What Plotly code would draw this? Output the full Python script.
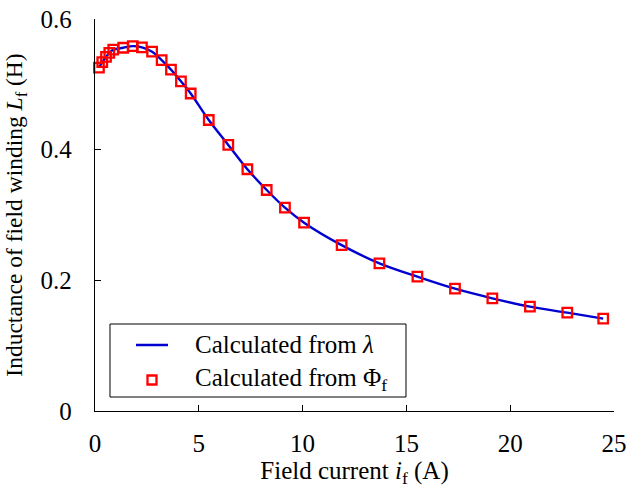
import plotly.graph_objects as go

# Field current (A) and inductance (H)
field_current = [0.19, 0.35, 0.53, 0.69, 0.88, 1.36, 1.82, 2.26, 2.75, 3.21, 3.66, 4.14, 4.61,
                 5.48, 6.42, 7.34, 8.27, 9.15, 10.07, 11.88, 13.7, 15.53, 17.34, 19.14, 20.95, 22.75, 24.48]
inductance = [0.5255, 0.534, 0.542, 0.548, 0.553, 0.556, 0.5585, 0.5567, 0.550, 0.537, 0.5225, 0.5046, 0.486,
              0.4454, 0.4072, 0.370, 0.3383, 0.3112, 0.2882, 0.2538, 0.226, 0.2056, 0.1872, 0.1725, 0.1597, 0.1505, 0.1413]

x_ticks = [0, 5, 10, 15, 20, 25]
y_ticks = [0, 0.2, 0.4, 0.6]
y_ticklabels = ["0", "0.2", "0.4", "0.6"]

legend_labels = ["Calculated from <i>λ</i>", "Calculated from Φ<sub>f</sub>"]

FONT = "Liberation Serif"
LINE_COLOR = "#0000D0"
MARKER_COLOR = "#FF0000"

fig = go.Figure()
fig.add_trace(go.Scatter(
    x=field_current, y=inductance, mode="lines",
    line=dict(color=LINE_COLOR, width=2.4, shape="spline"),
    name=legend_labels[0], cliponaxis=False))
fig.add_trace(go.Scatter(
    x=field_current, y=inductance, mode="markers",
    marker=dict(symbol="square-open", size=9.5, color=MARKER_COLOR, line=dict(width=2.3, color=MARKER_COLOR)),
    name=legend_labels[1], cliponaxis=False))

axis_common = dict(showgrid=False, zeroline=False, showline=True, linecolor="black", linewidth=1.3,
                   ticks="inside", ticklen=6, tickwidth=1, tickcolor="black", automargin=False,
                   tickfont=dict(family=FONT, size=25, color="black"))

# custom legend box (paper coordinates)
lx0, lx1, ly0, ly1 = 0.0289, 0.5992, 0.0357, 0.2219
row_y = [0.1684, 0.0791]
sym_x = 0.1098
text_x = 0.1888

shapes = [
    dict(type="rect", xref="paper", yref="paper", x0=lx0, x1=lx1, y0=ly0, y1=ly1,
         line=dict(color="black", width=1), fillcolor="white", layer="above"),
    dict(type="line", xref="paper", yref="paper", xsizemode="pixel", xanchor=sym_x,
         x0=-16, x1=16, y0=row_y[0], y1=row_y[0], line=dict(color=LINE_COLOR, width=2.4), layer="above"),
    dict(type="rect", xref="paper", yref="paper", xsizemode="pixel", ysizemode="pixel",
         xanchor=sym_x, yanchor=row_y[1], x0=-4.5, x1=4.5, y0=-4.5, y1=4.5,
         line=dict(color=MARKER_COLOR, width=2.3), fillcolor="white", layer="above"),
]
annotations = [
    dict(xref="paper", yref="paper", x=text_x, y=yy, text=t, showarrow=False, xanchor="left",
         yanchor="middle", font=dict(family=FONT, size=25, color="black"))
    for yy, t in zip(row_y, legend_labels)
]

fig.update_layout(
    width=630, height=492,
    margin=dict(l=95, r=16, t=19, b=81),
    paper_bgcolor="white", plot_bgcolor="white",
    font=dict(family=FONT, size=25, color="black"),
    xaxis=dict(range=[0, 25], tickvals=x_ticks, ticklabelstandoff=10,
               title=dict(text="Field current <i>i</i><sub>f</sub> (A)", font=dict(family=FONT, size=25), standoff=2),
               **axis_common),
    yaxis=dict(range=[0, 0.6], tickvals=y_ticks, ticktext=y_ticklabels, ticklabelstandoff=17,
               title=dict(text="Inductance of field winding <i>L</i><sub>f</sub> (H)", font=dict(family=FONT, size=23.5), standoff=11),
               **axis_common),
    shapes=shapes,
    annotations=annotations,
    showlegend=False,
)

fig.write_html("out.html", config={"displayModeBar": False},
               post_script="document.body.style.margin='0';")
